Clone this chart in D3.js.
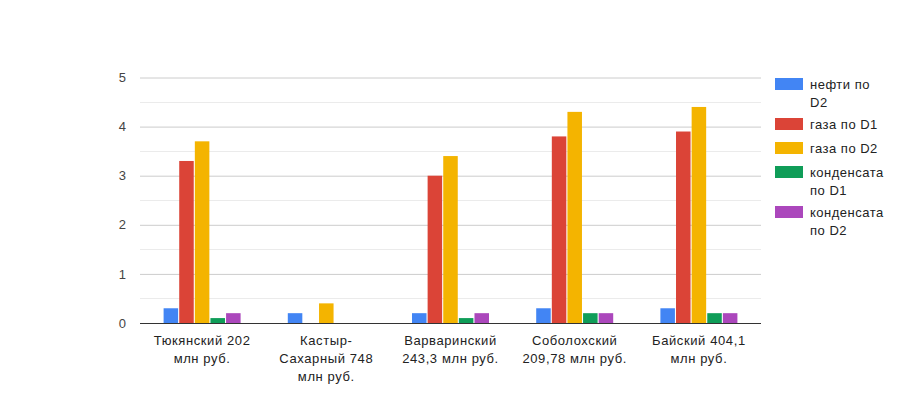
<!DOCTYPE html>
<html>
<head>
<meta charset="utf-8">
<script src="https://cdn.jsdelivr.net/npm/d3@7"></script>
<style>
  body { margin: 0; background: #fff; }
  text { font-family: "Liberation Sans", Arial, sans-serif; }
</style>
</head>
<body>
<svg id="chart" width="900" height="400"></svg>
<script>
// ----- DATA -----
var categories = [
  ["Тюкянский 202", "млн руб."],
  ["Кастыр-", "Сахарный 748", "млн руб."],
  ["Варваринский", "243,3 млн руб."],
  ["Соболохский", "209,78 млн руб."],
  ["Байский 404,1", "млн руб."]
];
var seriesNames = [
  ["нефти по", "D2"],
  ["газа по D1"],
  ["газа по D2"],
  ["конденсата", "по D1"],
  ["конденсата", "по D2"]
];
var oilD2 = [0.3, 0.2, 0.2, 0.3, 0.3];
var gasD1 = [3.3, 0, 3.0, 3.8, 3.9];
var gasD2 = [3.7, 0.4, 3.4, 4.3, 4.4];
var condD1 = [0.1, 0, 0.1, 0.2, 0.2];
var condD2 = [0.2, 0, 0.2, 0.2, 0.2];
var series = [oilD2, gasD1, gasD2, condD1, condD2];
var colors = ["#4285f4", "#db4437", "#f4b400", "#0f9d58", "#ab47bc"];
var yTicks = [0, 1, 2, 3, 4, 5];

// ----- CHART -----
var svg = d3.select("#chart");
var plotLeft = 140, plotRight = 761, plotTop = 77.5, plotBottom = 323;

var x0 = d3.scaleBand().domain(d3.range(categories.length)).range([plotLeft, plotRight]).paddingInner(0.38).paddingOuter(0.19);
var x1 = d3.scaleBand().domain(d3.range(series.length)).range([0, x0.bandwidth()]).paddingInner(0.07);
var y = d3.scaleLinear().domain([0, 5]).range([plotBottom, plotTop]);

// minor grid
svg.append("g").selectAll("line")
  .data(d3.range(0.5, 5, 1))
  .join("line")
  .attr("x1", plotLeft).attr("x2", plotRight)
  .attr("y1", function(d) { return Math.round(y(d)) + 0.5; })
  .attr("y2", function(d) { return Math.round(y(d)) + 0.5; })
  .attr("stroke", "#ebebeb");

// major grid + labels
var yAxis = svg.append("g")
  .attr("transform", "translate(" + plotLeft + ",0)")
  .call(d3.axisLeft(y).tickValues(yTicks).tickSize(-(plotRight - plotLeft)).tickPadding(14).tickFormat(d3.format("d")));
yAxis.select(".domain").remove();
yAxis.selectAll(".tick line").attr("stroke", "#cccccc");
yAxis.selectAll(".tick text").attr("fill", "#444").style("font-size", "13px")
  .style("font-family", "'Liberation Sans', Arial, sans-serif");

// bars
var groups = svg.append("g").selectAll("g")
  .data(categories)
  .join("g")
  .attr("transform", function(d, i) { return "translate(" + x0(i) + ",0)"; });

groups.selectAll("rect")
  .data(function(d, i) { return series.map(function(s, k) { return { k: k, v: s[i] }; }); })
  .join("rect")
  .attr("x", function(d) { return x1(d.k); })
  .attr("width", x1.bandwidth())
  .attr("y", function(d) { return y(d.v); })
  .attr("height", function(d) { return plotBottom - y(d.v); })
  .attr("fill", function(d) { return colors[d.k]; });

// baseline
svg.append("line")
  .attr("x1", plotLeft).attr("x2", plotRight)
  .attr("y1", plotBottom + 0.5).attr("y2", plotBottom + 0.5)
  .attr("stroke", "#333");

// category labels
svg.append("g").selectAll("text")
  .data(categories)
  .join("text")
  .attr("text-anchor", "middle")
  .attr("fill", "#222")
  .style("font-size", "13px")
  .style("letter-spacing", "0.6px")
  .attr("x", function(d, i) { return x0(i) + x0.bandwidth() / 2; })
  .attr("y", 345)
  .selectAll("tspan")
  .data(function(d) { return d; })
  .join("tspan")
  .attr("x", function() { return this.parentNode.getAttribute("x"); })
  .attr("dy", function(d, j) { return j === 0 ? 0 : 18; })
  .text(function(d) { return d; });

// legend
var legendY = [78, 118, 142, 166, 206];
var legend = svg.append("g").selectAll("g")
  .data(seriesNames)
  .join("g")
  .attr("transform", function(d, i) { return "translate(775," + legendY[i] + ")"; });

legend.append("rect")
  .attr("width", 28).attr("height", 12)
  .attr("fill", function(d, i) { return colors[i]; });

legend.append("text")
  .attr("x", 35).attr("y", 11)
  .attr("fill", "#222")
  .style("font-size", "13px")
  .style("letter-spacing", "0.5px")
  .selectAll("tspan")
  .data(function(d) { return d; })
  .join("tspan")
  .attr("x", 35)
  .attr("dy", function(d, j) { return j === 0 ? 0 : 18; })
  .text(function(d) { return d; });
</script>
</body>
</html>
